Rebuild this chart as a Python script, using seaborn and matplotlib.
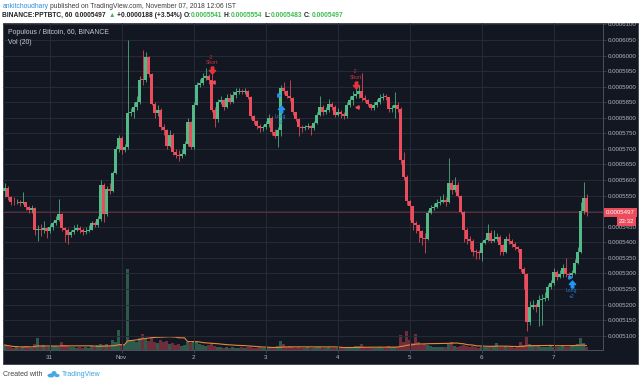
import numpy as np
import pandas as pd
import matplotlib
matplotlib.use("Agg")
import matplotlib.pyplot as plt
import matplotlib.transforms as mtrans
from matplotlib.patches import Rectangle, Ellipse
import seaborn as sns

# ---------------- data (prices in units of 1e-7 BTC, hourly candles) ----------------
SCALE = 1e-7
first_open = 5565
close = [
    5575, 5545, 5530, 5528, 5531, 5527, 5529, 5512, 5505, 5510,
    5440, 5443, 5440, 5445, 5436, 5448, 5462, 5472, 5490, 5445,
    5438, 5425, 5433, 5441, 5445, 5440, 5432, 5437, 5440, 5462,
    5456, 5476, 5585, 5490, 5570, 5565, 5622, 5700, 5735, 5695,
    5705, 5815, 5818, 5835, 5852, 5922, 5920, 5995, 5940, 5845,
    5815, 5825, 5770, 5762, 5710, 5745, 5690, 5682, 5678, 5685,
    5715, 5785, 5705, 5842, 5906, 5912, 5928, 5935, 5920, 5826,
    5795, 5850, 5856, 5835, 5865, 5852, 5873, 5882, 5885, 5884,
    5887, 5868, 5805, 5790, 5775, 5768, 5770, 5780, 5800, 5755,
    5740, 5762, 5896, 5885, 5870, 5862, 5818, 5797, 5770, 5767,
    5771, 5774, 5766, 5783, 5808, 5835, 5820, 5825, 5845, 5835,
    5810, 5820, 5812, 5805, 5842, 5858, 5870, 5875, 5885, 5862,
    5858, 5845, 5832, 5840, 5850, 5865, 5867, 5866, 5828, 5830,
    5842, 5828, 5665, 5610, 5532, 5515, 5463, 5455, 5435, 5415,
    5412, 5494, 5510, 5514, 5525, 5530, 5537, 5528, 5592, 5568,
    5585, 5550, 5497, 5440, 5410, 5405, 5370, 5368, 5365, 5398,
    5408, 5430, 5405, 5412, 5418, 5390, 5368, 5412, 5405, 5395,
    5385, 5378, 5315, 5298, 5145, 5192, 5197, 5192, 5215, 5218,
    5222, 5255, 5268, 5306, 5290, 5298, 5318, 5298, 5295, 5302,
    5335, 5370, 5499, 5541, 5497,
]
high = [
    5590, 5580, 5550, 5545, 5540, 5535, 5560, 5530, 5515, 5520,
    5512, 5455, 5460, 5470, 5450, 5460, 5470, 5485, 5540, 5495,
    5450, 5445, 5440, 5455, 5460, 5452, 5445, 5450, 5455, 5470,
    5470, 5485, 5600, 5590, 5580, 5590, 5630, 5710, 5745, 5740,
    5715, 6050, 5830, 5850, 5870, 5935, 6018, 6010, 6000, 5945,
    5850, 5840, 5830, 5780, 5765, 5760, 5750, 5700, 5695, 5700,
    5725, 5800, 5790, 5850, 5915, 5925, 5945, 5960, 5940, 5950,
    5835, 5860, 5870, 5860, 5875, 5880, 5885, 5895, 5895, 5893,
    5895, 5888, 5870, 5808, 5792, 5780, 5778, 5790, 5812, 5805,
    5765, 5770, 5905, 5915, 5890, 5920, 5868, 5815, 5800, 5778,
    5778, 5782, 5778, 5790, 5820, 5870, 5840, 5835, 5860, 5850,
    5840, 5830, 5825, 5818, 5850, 5870, 5885, 5900, 5905, 5945,
    5872, 5860, 5845, 5850, 5860, 5875, 5880, 5875, 5865, 5840,
    5883, 5850, 5835, 5690, 5615, 5535, 5518, 5470, 5460, 5440,
    5430, 5505, 5520, 5525, 5540, 5550, 5555, 5545, 5672, 5600,
    5610, 5595, 5552, 5500, 5445, 5420, 5410, 5380, 5375, 5405,
    5415, 5460, 5440, 5440, 5430, 5425, 5395, 5420, 5430, 5410,
    5400, 5388, 5380, 5320, 5300, 5210, 5215, 5205, 5230, 5235,
    5240, 5265, 5280, 5318, 5310, 5312, 5330, 5351, 5305, 5310,
    5345, 5385, 5530, 5595, 5554,
]
low = [
    5545, 5535, 5520, 5520, 5522, 5518, 5522, 5505, 5495, 5495,
    5425, 5405, 5420, 5430, 5415, 5430, 5440, 5455, 5468, 5435,
    5400, 5393, 5418, 5428, 5435, 5430, 5422, 5428, 5432, 5438,
    5448, 5450, 5470, 5465, 5485, 5555, 5560, 5620, 5690, 5685,
    5690, 5700, 5805, 5800, 5825, 5845, 5905, 5915, 5930, 5840,
    5800, 5805, 5760, 5745, 5700, 5705, 5680, 5670, 5662, 5672,
    5680, 5710, 5700, 5700, 5840, 5900, 5905, 5920, 5910, 5820,
    5770, 5785, 5845, 5825, 5830, 5845, 5848, 5865, 5875, 5876,
    5878, 5860, 5795, 5780, 5765, 5755, 5758, 5765, 5770, 5745,
    5735, 5705, 5740, 5878, 5862, 5855, 5810, 5790, 5740, 5755,
    5760, 5765, 5745, 5760, 5780, 5805, 5810, 5812, 5820, 5825,
    5802, 5805, 5800, 5795, 5800, 5835, 5840, 5862, 5865, 5855,
    5850, 5838, 5825, 5825, 5835, 5845, 5858, 5858, 5820, 5818,
    5800, 5820, 5650, 5600, 5520, 5473, 5440, 5430, 5400, 5390,
    5367, 5408, 5490, 5505, 5510, 5520, 5525, 5518, 5525, 5555,
    5560, 5545, 5490, 5400, 5395, 5380, 5355, 5345, 5345, 5340,
    5395, 5405, 5398, 5400, 5405, 5360, 5360, 5365, 5395, 5385,
    5375, 5370, 5305, 5250, 5115, 5135, 5185, 5175, 5130, 5135,
    5210, 5215, 5250, 5262, 5280, 5285, 5290, 5290, 5285, 5290,
    5298, 5330, 5365, 5490, 5483,
]
volume = [
    5, 4, 3, 2, 3, 2, 3, 4, 3, 2,
    6, 12, 4, 5, 3, 3, 4, 4, 3, 8,
    5, 4, 3, 3, 2, 3, 2, 3, 2, 4,
    3, 5, 6, 5, 6, 4, 10, 8, 20, 6,
    5, 81, 10, 9, 8, 12, 16, 11, 9, 12,
    8, 7, 10, 8, 9, 6, 7, 5, 6, 4,
    5, 8, 7, 9, 8, 6, 5, 4, 5, 7,
    4, 3, 3, 2, 3, 2, 3, 2, 2, 3,
    2, 3, 3, 2, 2, 3, 2, 2, 3, 2,
    3, 4, 9, 6, 3, 4, 3, 2, 3, 2,
    2, 3, 2, 2, 3, 3, 2, 2, 3, 2,
    2, 2, 3, 2, 3, 2, 3, 4, 4, 6,
    3, 2, 3, 2, 2, 3, 2, 2, 4, 3,
    3, 3, 15, 8, 19, 10, 7, 16, 8, 5,
    6, 5, 4, 3, 3, 3, 3, 3, 6, 8,
    4, 3, 4, 5, 4, 3, 4, 3, 2, 3,
    3, 3, 3, 4, 7, 3, 3, 4, 3, 3,
    2, 3, 8, 5, 14, 6, 5, 4, 4, 3,
    3, 3, 4, 3, 3, 3, 4, 3, 3, 4,
    5, 6, 12, 7, 3,
]
day_ticks = [15, 39, 63, 87, 111, 135, 159, 183]
day_labels = ["31", "Nov", "2", "3", "4", "5", "6", "7"]
price_ticks = [5100, 5150, 5200, 5250, 5300, 5350, 5400, 5450, 5500, 5550,
               5600, 5650, 5700, 5750, 5800, 5850, 5900, 5950, 6000, 6050, 6100]
sig_idx = [69, 92, 117, 189]
sig_price = [5954, 5827, 5906, 5266]
sig_side = ["Short", "Long", "Short", "Long"]
sig_qty = ["-2", "+2", "-2", "+2"]
exit_idx = [69, 92, 117, 189]
exit_price = [5915, 5874, 5835, 5290]
exit_side = ["short", "long", "short", "long"]
countdown = "23:32"
title = "Populous / Bitcoin, 60, BINANCE"
vol_title = "Vol (20)"

# ---------------- style ----------------
BG = "#131722"
GRID = "#272b37"
GREEN = "#53b987"
RED = "#eb4d5c"
BLUE = "#2196f3"
LABELC = "#b2b5be"
AXISC = "#4c505b"
ORANGE = "#e8873a"

sns.set_theme(style="dark")
plt.rcParams['font.family'] = ['Liberation Sans', 'DejaVu Sans']

W, H = 640, 384
fig = plt.figure(figsize=(6.4, 3.84), dpi=100, facecolor="white")


def fx(px):
    return px / W


def fy(py):
    return 1 - py / H


panel = Rectangle((fx(3), fy(364)), 635 / W, (364 - 23) / H, transform=fig.transFigure,
                  facecolor=BG, edgecolor="#3c404b", lw=0.6, zorder=-5)
fig.patches.append(panel)

ax = fig.add_axes([fx(3), fy(350), 600 / W, 327 / H])
axv = ax.twinx()
ax.set_zorder(axv.get_zorder() + 1)
ax.patch.set_visible(False)
axv.patch.set_visible(False)

o = np.array([first_open] + close[:-1]) * SCALE
c = np.array(close) * SCALE
h = np.array(high) * SCALE
l = np.array(low) * SCALE
n = len(c)
idx = np.arange(n)
up = c >= o
cols = np.where(up, GREEN, RED)

# volume + MA on the underlying axis
vol = np.array(volume, dtype=float)
axv.bar(idx, vol, width=0.72, color=cols, alpha=0.42, linewidth=0)
ma = pd.Series(vol).rolling(20, min_periods=1).mean()
sns.lineplot(x=idx, y=ma.values, ax=axv, color=ORANGE, lw=0.8)
axv.set_ylim(0, 327)
axv.set_yticks([])
axv.set_ylabel("")
for s in axv.spines.values():
    s.set_visible(False)
axv.grid(False)

# candles
ax.vlines(idx, l, h, colors=cols, lw=0.65, alpha=0.85)
body_lo = np.minimum(o, c)
body_h = np.maximum(np.abs(c - o), 3.0 * SCALE)
ax.bar(idx, body_h, bottom=body_lo, width=0.74, color=cols, linewidth=0)

ax.set_xlim(-0.5, 199.5)
ax.set_ylim(5054 * SCALE, 6104.5 * SCALE)
axv.set_xlim(-0.5, 199.5)

# grid / ticks
ax.set_yticks([p * SCALE for p in price_ticks])
ax.set_yticklabels([f"{p * SCALE:.7f}" for p in price_ticks])
ax.set_xticks(day_ticks)
ax.set_xticklabels(day_labels)
ax.grid(True, color=GRID, lw=0.7)
ax.yaxis.tick_right()
ax.tick_params(axis='y', right=True, left=False, length=2, width=0.5, color=AXISC,
               labelcolor=LABELC, labelsize=4.4, pad=1.2)
ax.tick_params(axis='x', bottom=True, length=2, width=0.5, color=AXISC,
               labelcolor=LABELC, labelsize=4.5, pad=1.6)
for k, s in ax.spines.items():
    s.set_visible(k in ("right", "bottom"))
    s.set_color(AXISC)
    s.set_linewidth(0.7)

clipbox = mtrans.TransformedBbox(mtrans.Bbox.from_bounds(fx(3), fy(364), 635 / W, (364 - 23) / H),
                                 fig.transFigure)
for lab in ax.get_yticklabels():
    lab.set_clip_box(clipbox)
    lab.set_clip_on(True)

# last price line + labels
last = c[-1]
ax.axhline(last, color=RED, lw=0.6, ls=(0, (1.2, 1.2)), alpha=0.85)
ax.annotate(f"{last:.7f}", xy=(1, last), xycoords=('axes fraction', 'data'),
            xytext=(3, 0), textcoords='offset pixels', ha='left', va='center',
            fontsize=4.4, color="white", annotation_clip=False,
            bbox=dict(boxstyle="square,pad=0.32", fc=RED, ec="none"))
ax.annotate(countdown, xy=(1, last), xycoords=('axes fraction', 'data'),
            xytext=(31, -9.5), textcoords='offset pixels', ha='right', va='center',
            fontsize=4.4, color="white", annotation_clip=False,
            bbox=dict(boxstyle="square,pad=0.32", fc=RED, ec="none"))

# strategy signals
down_arrow = [(-0.18, 0.5), (0.18, 0.5), (0.18, 0.0), (0.45, 0.0), (0.0, -0.5),
              (-0.45, 0.0), (-0.18, 0.0), (-0.18, 0.5)]
up_arrow = [(x, -y) for x, y in down_arrow]
for i, p, side, q in zip(sig_idx, sig_price, sig_side, sig_qty):
    col = "#e8333f" if side == "Short" else BLUE
    mk = down_arrow if side == "Short" else up_arrow
    ax.plot([i], [p * SCALE], marker=mk, ms=5.0, color=col, ls='none', clip_on=False)
    d1, d2 = (6.9, 12.8) if side == "Short" else (-6.8, -12.8)
    tcol = "#c8323c" if side == "Short" else "#1e7fd0"
    ax.annotate(side, xy=(i, p * SCALE), xytext=(0, d1), textcoords='offset pixels',
                ha='center', va='center', fontsize=3.7, color=tcol)
    ax.annotate(q, xy=(i, p * SCALE), xytext=(0, d2), textcoords='offset pixels',
                ha='center', va='center', fontsize=3.7, color=tcol)
for i, p, side in zip(exit_idx, exit_price, exit_side):
    if side == "short":
        tr = mtrans.offset_copy(ax.transData, fig=fig, x=1.8, y=0, units='dots')
        ax.plot([i], [p * SCALE], marker='<', ms=2.4, color=RED, ls='none', transform=tr)
    else:
        tr = mtrans.offset_copy(ax.transData, fig=fig, x=-1.8, y=0, units='dots')
        ax.plot([i], [p * SCALE], marker='>', ms=2.4, color=BLUE, ls='none', transform=tr)

# overlay titles
fig.text(fx(8), fy(32.5), title, fontsize=4.95, color="#c8cbd3", ha='left', va='center')
fig.text(fx(8), fy(42.5), vol_title, fontsize=4.95, color="#c8cbd3", ha='left', va='center')

# ---------------- header / footer text ----------------
renderer = fig.canvas.get_renderer()


def width_of(txt, size, weight):
    t = fig.text(0, 0, txt, fontsize=size, fontweight=weight)
    w = t.get_window_extent(renderer).width
    t.remove()
    return w


def seg_line(x0, y, parts, size):
    x = x0
    for txt, col, wt, gap in parts:
        sp = width_of("a a", size, wt) - width_of("aa", size, wt)
        x += sp * gap
        t = fig.text(x / W, fy(y), txt, color=col, fontsize=size, fontweight=wt,
                     ha='left', va='center')
        x = t.get_window_extent(renderer).x1
    return x


DARK = "#3d3d3d"
seg_line(2.5, 6.3, [("ankitchoudhary", "#2f8fdc", "normal", 0),
                    ("published on TradingView.com, November 07, 2018 12:06 IST", DARK, "normal", 1)], 4.85)
HG = "#3dbb4f"
seg_line(2.5, 15.8, [("BINANCE:PPTBTC, 60", "#222222", "bold", 0),
                     ("0.0005497", "#222222", "bold", 1),
                     ("▲", HG, "normal", 1),
                     ("+0.0000188 (+3.54%)", "#222222", "bold", 1),
                     ("O:", "#222222", "bold", 1), ("0.0005541", HG, "bold", 0),
                     ("H:", "#222222", "bold", 1), ("0.0005554", HG, "bold", 0),
                     ("L:", "#222222", "bold", 1), ("0.0005483", HG, "bold", 0),
                     ("C:", "#222222", "bold", 1), ("0.0005497", HG, "bold", 0)], 4.8)

fig.text(fx(3), fy(374.5), "Created with", fontsize=5.0, color="#444444", ha='left', va='center')
LOGO = "#4aa8e0"
for (ex, ey, ew, eh) in [(51, 375.5, 7, 4), (54, 373.3, 5, 4.6), (57, 375.5, 5, 3.4)]:
    fig.patches.append(Ellipse((fx(ex), fy(ey)), ew / W, eh / H, transform=fig.transFigure,
                               facecolor=LOGO, edgecolor='none'))
fig.text(fx(62), fy(374.5), "TradingView", fontsize=5.0, color="#3aa3de", ha='left', va='center')

fig.savefig("out.png", dpi=100, facecolor="white")
